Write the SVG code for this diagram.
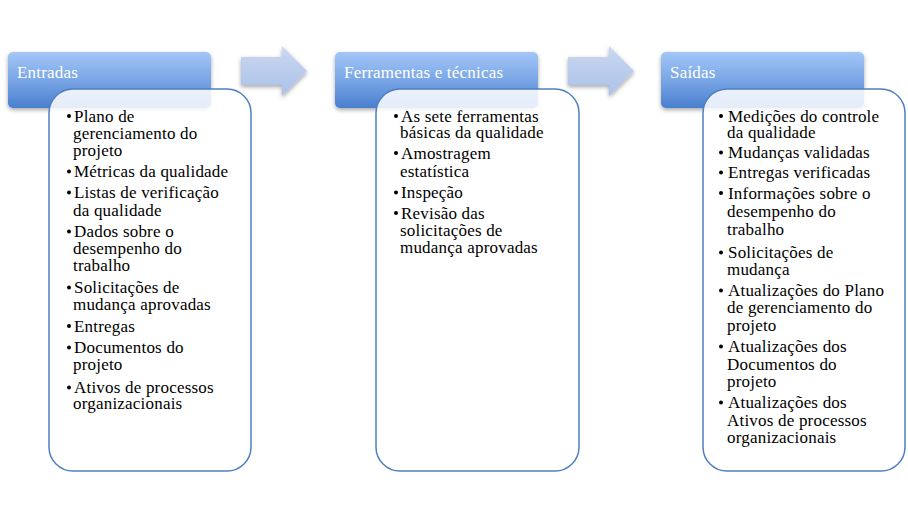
<svg xmlns="http://www.w3.org/2000/svg" width="908" height="525" viewBox="0 0 908 525">
<defs>
<linearGradient id="hg" x1="0" y1="0" x2="0" y2="1">
<stop offset="0" stop-color="#a3c6f7"/>
<stop offset="0.5" stop-color="#7aa6e6"/>
<stop offset="1" stop-color="#4a7fcf"/>
</linearGradient>
<linearGradient id="ag" x1="0" y1="0" x2="0" y2="1">
<stop offset="0" stop-color="#cbd9f1"/>
<stop offset="1" stop-color="#a9c0e8"/>
</linearGradient>
<filter id="sh" x="-10%" y="-10%" width="120%" height="140%">
<feDropShadow dx="0" dy="2" stdDeviation="2" flood-color="#000" flood-opacity="0.35"/>
</filter>
</defs>
<style>
.hdr{fill:url(#hg);filter:url(#sh)}
.box{fill:#fff;fill-opacity:0.86;stroke:#4f7fc0;stroke-width:1.5}
.arr{fill:url(#ag);filter:url(#sh)}
.ht{font-family:"Liberation Serif",serif;font-size:17px;letter-spacing:0.2px;fill:#fff}
.t{font-family:"Liberation Serif",serif;font-size:17px;letter-spacing:0.2px;fill:#000}
.b{fill:#000}
</style>
<rect width="908" height="525" fill="#fff"/>
<g id="connectors">
<path class="arr" d="M241 57 H282 V46 L307 71 L282 96 V85 H241 Z"/>
<path class="arr" d="M568 57 H609 V46 L634 71 L609 96 V85 H568 Z"/>
</g>
<g id="entradas">
<rect class="hdr" x="8" y="52" width="203" height="56" rx="5"/>
<text class="ht" x="17" y="78">Entradas</text>
<rect class="box" x="49" y="89" width="202" height="382" rx="24"/>
<g class="t">
<circle class="b" cx="69" cy="116" r="2"/>
<text class="t" x="74" y="121.5">Plano de</text>
<text class="t" x="73" y="138.5">gerenciamento do</text>
<text class="t" x="73" y="155.5">projeto</text>
<circle class="b" cx="69" cy="171.5" r="2"/>
<text class="t" x="74" y="177">Métricas da qualidade</text>
<circle class="b" cx="69" cy="192.5" r="2"/>
<text class="t" x="74" y="198">Listas de verificação</text>
<text class="t" x="73" y="215.5">da qualidade</text>
<circle class="b" cx="69" cy="231.5" r="2"/>
<text class="t" x="74" y="237">Dados sobre o</text>
<text class="t" x="73" y="254">desempenho do</text>
<text class="t" x="73" y="271">trabalho</text>
<circle class="b" cx="69" cy="287.5" r="2"/>
<text class="t" x="74" y="293">Solicitações de</text>
<text class="t" x="73" y="310">mudança aprovadas</text>
<circle class="b" cx="69" cy="326" r="2"/>
<text class="t" x="74" y="331.5">Entregas</text>
<circle class="b" cx="69" cy="347.5" r="2"/>
<text class="t" x="74" y="353">Documentos do</text>
<text class="t" x="73" y="370">projeto</text>
<circle class="b" cx="69" cy="387.5" r="2"/>
<text class="t" x="74" y="393">Ativos de processos</text>
<text class="t" x="73" y="409">organizacionais</text>
</g>
</g>
<g id="ferramentas">
<rect class="hdr" x="335" y="52" width="203" height="56" rx="5"/>
<text class="ht" x="344" y="78">Ferramentas e técnicas</text>
<rect class="box" x="376" y="89" width="203" height="382" rx="24"/>
<circle class="b" cx="396" cy="116" r="2"/>
<text class="t" x="401" y="121.5">As sete ferramentas</text>
<text class="t" x="400" y="137.5">básicas da qualidade</text>
<circle class="b" cx="396" cy="153" r="2"/>
<text class="t" x="401" y="158.5">Amostragem</text>
<text class="t" x="400" y="176.5">estatística</text>
<circle class="b" cx="396" cy="192.5" r="2"/>
<text class="t" x="401" y="198">Inspeção</text>
<circle class="b" cx="396" cy="213" r="2"/>
<text class="t" x="401" y="218.5">Revisão das</text>
<text class="t" x="400" y="235.5">solicitações de</text>
<text class="t" x="400" y="252.5">mudança aprovadas</text>
</g>
<g id="saidas">
<rect class="hdr" x="661" y="52" width="203" height="56" rx="5"/>
<text class="ht" x="670" y="78">Saídas</text>
<rect class="box" x="703" y="89" width="202" height="382" rx="24"/>
<circle class="b" cx="721" cy="116" r="2"/>
<text class="t" x="728" y="121.5">Medições do controle</text>
<text class="t" x="727" y="137.5">da qualidade</text>
<circle class="b" cx="721" cy="152.5" r="2"/>
<text class="t" x="728" y="158">Mudanças validadas</text>
<circle class="b" cx="721" cy="172.5" r="2"/>
<text class="t" x="728" y="178">Entregas verificadas</text>
<circle class="b" cx="721" cy="193" r="2"/>
<text class="t" x="728" y="198.5">Informações sobre o</text>
<text class="t" x="727" y="216.5">desempenho do</text>
<text class="t" x="727" y="234.5">trabalho</text>
<circle class="b" cx="721" cy="252.5" r="2"/>
<text class="t" x="728" y="258">Solicitações de</text>
<text class="t" x="727" y="275">mudança</text>
<circle class="b" cx="721" cy="290.5" r="2"/>
<text class="t" x="728" y="296">Atualizações do Plano</text>
<text class="t" x="727" y="313">de gerenciamento do</text>
<text class="t" x="727" y="330.5">projeto</text>
<circle class="b" cx="721" cy="346.5" r="2"/>
<text class="t" x="728" y="352">Atualizações dos</text>
<text class="t" x="727" y="369.5">Documentos do</text>
<text class="t" x="727" y="387">projeto</text>
<circle class="b" cx="721" cy="402.5" r="2"/>
<text class="t" x="728" y="408">Atualizações dos</text>
<text class="t" x="727" y="426">Ativos de processos</text>
<text class="t" x="727" y="443">organizacionais</text>
</g>
</svg>
